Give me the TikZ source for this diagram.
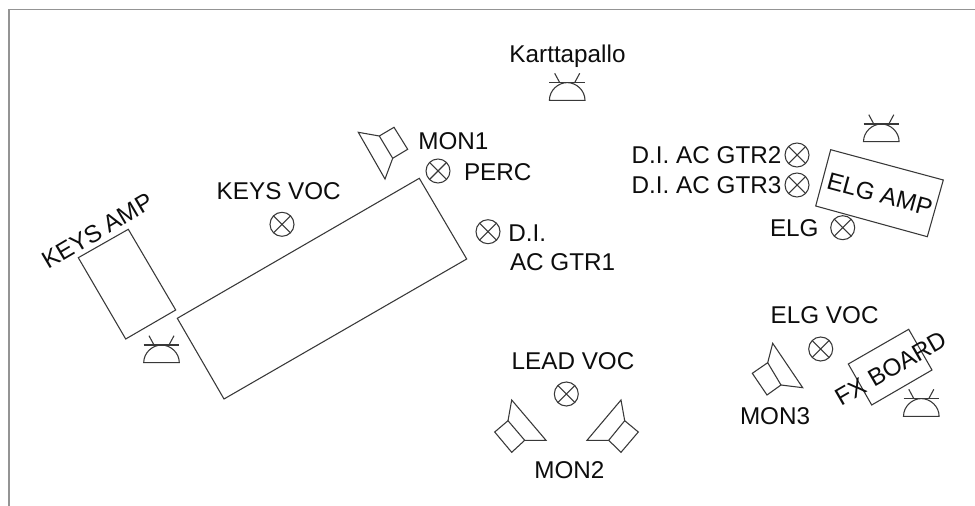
\documentclass[tikz,border=0pt]{standalone}
\usepackage{fontspec}
\setmainfont{Liberation Sans}
\tikzset{
  x=0.75pt,y=-0.75pt,
  framing/.style={draw=black!42,line width=1.4pt},
  ink/.style={draw=black!78,line width=0.8pt,line join=miter},
  lbl/.style={inner sep=0pt,outer sep=0pt,text=black!95,font=\fontsize{18.2}{21}\selectfont},
  lblw/.style={lbl,anchor=base west},
  lamp/.pic={
    \draw[ink] (-17.8,0) .. controls (-17.8,-10) and (-9,-17.7) .. (0,-17.7)
      .. controls (9,-17.7) and (17.8,-10) .. (17.8,0) -- cycle;
    \draw[ink] (-17.8,-17.7) -- (17.8,-17.7);
    \draw[ink] (-7.5,-17.7) -- (-12.5,-27);
    \draw[ink] (7.5,-17.7) -- (12.5,-27);
  },
  mic/.pic={
    \draw[ink] (0,0) circle[radius=12];
    \draw[ink] (-8.5,-8.5) -- (8.5,8.5) (-8.5,8.5) -- (8.5,-8.5);
  }
}
\begin{document}
\begin{tikzpicture}
\useasboundingbox[fill=white] (0,0) rectangle (975,506);
% frame
\draw[framing] (8.8,506) -- (8.8,9.5) -- (975,9.5);
% stage furniture
\draw[ink] (78.3,257.7) -- (128.3,229.3) -- (175.7,310) -- (125.7,339) -- cycle;
\draw[ink] (177.3,318.3) -- (419.3,178.3) -- (466.7,259) -- (224,399) -- cycle;
\draw[ink] (830.7,149.7) -- (943.3,180) -- (927.3,236.7) -- (815.7,206) -- cycle;
\draw[ink] (848.3,364) -- (908.7,329.3) -- (932,370) -- (871.7,405) -- cycle;
% lamps
\pic at (161.5,362.7) {lamp};
\pic at (567.2,100.3) {lamp};
\pic at (881.3,141.7) {lamp};
\pic at (921.3,416.3) {lamp};
% microphones
\pic at (282,224.3) {mic};
\pic at (438,171) {mic};
\pic at (488,231.7) {mic};
\pic at (797,155) {mic};
\pic at (797,185) {mic};
\pic at (842.7,227.7) {mic};
\pic at (820.7,349) {mic};
\pic at (566.3,394) {mic};
% monitors
\draw[ink] (379.3,136) -- (394,127.3) -- (407.7,149.3) -- (392.7,158.3) -- cycle;
\draw[ink] (379.3,136) -- (358.3,132.3) -- (385,179) -- (392.7,158.3);
\draw[ink] (767.7,362.7) -- (781,385) -- (767,395) -- (752.3,373.3) -- cycle;
\draw[ink] (767.7,362.7) -- (772.7,343.3) -- (802.7,387.7) -- (781,385);
\draw[ink] (508,420.7) -- (524.7,440.3) -- (511.7,452.3) -- (494.7,432) -- cycle;
\draw[ink] (508,420.7) -- (511.7,400) -- (546,440.3) -- (524.7,440.3);
\draw[ink] (624.7,420.7) -- (608.7,440.3) -- (621,452.3) -- (638.3,432) -- cycle;
\draw[ink] (624.7,420.7) -- (621,400) -- (587,440.3) -- (608.7,440.3);
% labels
\node[lbl,anchor=base] (kartta) at (567.5,62.3) {Karttapallo};
\node[lblw] (mon1) at (418.3,150) {MON1};
\node[lblw] (perc) at (464,180.7) {PERC};
\node[lblw] (di) at (508.3,241.3) {D.I.};
\node[lblw] (gtr1) at (510,271) {AC GTR1};
\node[lblw] (keysvoc) at (216.7,200) {KEYS VOC};
\node[lbl,rotate=30.5] (keysamp) at (97.5,231) {KEYS AMP};
\node[lblw] (gtr2) at (631.7,164) {D.I. AC GTR2};
\node[lblw] (gtr3) at (631.7,194) {D.I. AC GTR3};
\node[lblw] (elg) at (770,237) {ELG};
\node[lbl,rotate=-15] (elgamp) at (879.8,194.3) {ELG AMP};
\node[lblw] (elgvoc) at (770.7,323.3) {ELG VOC};
\node[lblw] (mon3) at (740,424.3) {MON3};
\node[lbl,rotate=30] (fx) at (891,368.3) {FX BOARD};
\node[lblw] (leadvoc) at (511.7,369.3) {LEAD VOC};
\node[lblw] (mon2) at (534.3,478.3) {MON2};
\end{tikzpicture}
\end{document}
